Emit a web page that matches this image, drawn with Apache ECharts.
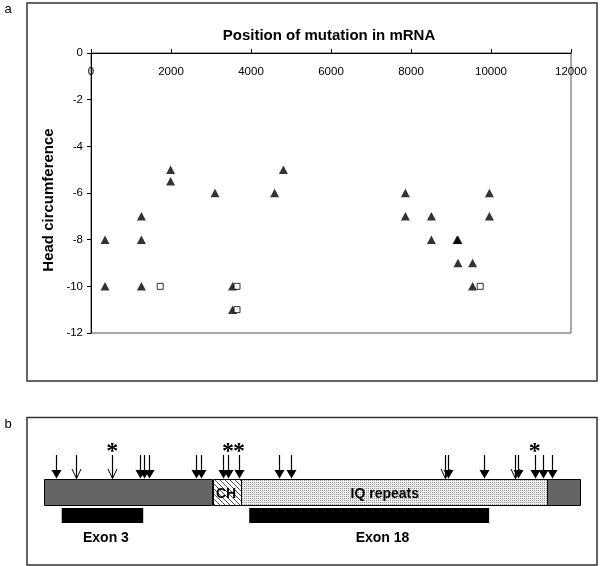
<!DOCTYPE html>
<html><head><meta charset="utf-8">
<script src="https://cdn.jsdelivr.net/npm/echarts@6/dist/echarts.min.js"></script>
<style>html,body{margin:0;padding:0;background:#fff}#c{width:605px;height:566px}</style>
</head><body><div id="c"></div>
<script>
// ---- Panel a: position of mutation in mRNA vs head circumference ----
const triX = [350, 350, 1260, 1260, 1260, 1990, 1990, 3100, 3540, 3540, 4590, 4810, 7860, 7860, 8510, 8510, 9150, 9175, 9175, 9540, 9540, 9960, 9960];
const triY = [-8, -10, -7, -8, -10, -5, -5.5, -6, -10, -11, -6, -5, -6, -7, -7, -8, -8, -8, -9, -9, -10, -6, -7];
const sqX = [1730, 3650, 3650, 9730];
const sqY = [-10, -10, -11, -10];
const titleText = 'Position of mutation in mRNA';
const yName = 'Head circumference';

// ---- Panel b: protein schematic (positions in amino acids) ----
const segStart = [0, 1092, 1274, 3263];
const segEnd = [1092, 1274, 3263, 3477];
const segKind = ['plain', 'hatch', 'dots', 'plain'];
const segLabel = ['', 'CH', 'IQ repeats', ''];
const segLabelX = [0, 1180, 2210, 0];
const exonStart = [113, 1330];
const exonEnd = [642, 2887];
const exonLabel = ['Exon 3', 'Exon 18'];
const exonLabelX = [400, 2195];
const arrowPos = [74, 206, 441, 618, 650, 679, 984, 1015, 1157, 1192, 1263, 1522, 1600, 2599, 2621, 2854, 3058, 3075, 3183, 3239, 3298];
const arrowOpen = [false, true, true, false, false, false, false, false, false, false, false, false, false, true, false, false, true, false, false, false, false];
const starPos = [441, 1192, 1263, 3183];

// layout rows for panel b (pixels)
const ROW = {star: 452, arrowTop: 455, headTop: 470, barTop: 479, barBottom: 505, exonTop: 508, exonBottom: 523, exonLabel: 538};
const FONT = '"Liberation Sans", Arial, sans-serif';

function makeHatch() {
  const c = document.createElement('canvas'); c.width = 5; c.height = 5;
  const g = c.getContext('2d');
  g.fillStyle = '#fff'; g.fillRect(0, 0, 5, 5);
  g.strokeStyle = '#555'; g.lineWidth = 1;
  g.beginPath();
  g.moveTo(-1, -1); g.lineTo(6, 6);
  g.moveTo(-1, 4); g.lineTo(1, 6);
  g.moveTo(4, -1); g.lineTo(6, 1);
  g.stroke();
  return c;
}
function makeDots() {
  const c = document.createElement('canvas'); c.width = 2; c.height = 2;
  const g = c.getContext('2d');
  g.fillStyle = '#ededed'; g.fillRect(0, 0, 2, 2);
  g.fillStyle = '#9a9a9a'; g.fillRect(0, 0, 1, 1);
  return c;
}
const hatch = makeHatch();
const dots = makeDots();

const chart = echarts.init(document.getElementById('c'), null, {renderer: 'canvas'});

const option = {
  backgroundColor: '#fff',
  animation: false,
  title: {
    text: titleText, left: 324, top: 23, textAlign: 'center',
    textStyle: {fontFamily: FONT, fontSize: 15, fontWeight: 'bold', color: '#000'}
  },
  graphic: [
    {type: 'rect', shape: {x: 27, y: 3, width: 570, height: 378}, style: {fill: null, stroke: '#333', lineWidth: 1.5}, silent: true},
    {type: 'rect', shape: {x: 27, y: 417.5, width: 570, height: 147.5}, style: {fill: null, stroke: '#333', lineWidth: 1.5}, silent: true},
    {type: 'text', x: 8, y: 9, style: {text: 'a', font: '13px ' + FONT, fill: '#000', align: 'center', verticalAlign: 'middle'}},
    {type: 'text', x: 8, y: 424, style: {text: 'b', font: '13px ' + FONT, fill: '#000', align: 'center', verticalAlign: 'middle'}},
    {type: 'text', x: 49, y: 200, rotation: Math.PI / 2, style: {text: yName, font: 'bold 15px ' + FONT, fill: '#000', align: 'center', verticalAlign: 'middle'}}
  ],
  grid: [
    {left: 91, top: 53, width: 480, height: 280, show: true, borderColor: '#555', borderWidth: 1, backgroundColor: 'transparent'},
    {left: 44.3, top: 0, width: 535.7, height: 566, show: false}
  ],
  xAxis: [
    {
      gridIndex: 0, type: 'value', position: 'top', min: 0, max: 12000, interval: 2000,
      axisLine: {show: true, lineStyle: {color: '#000', width: 1}},
      axisTick: {show: true, inside: false, length: 4, lineStyle: {color: '#000'}},
      axisLabel: {inside: true, margin: 13, color: '#000', fontFamily: FONT, fontSize: 11.5, formatter: v => String(v)},
      splitLine: {show: false}
    },
    {gridIndex: 1, type: 'value', min: 0, max: 3477, show: false}
  ],
  yAxis: [
    {
      gridIndex: 0, type: 'value', min: -12, max: 0, interval: 2,
      axisLine: {show: true, lineStyle: {color: '#000', width: 1}},
      axisTick: {show: true, inside: false, length: 4, lineStyle: {color: '#000'}},
      axisLabel: {margin: 8, color: '#000', fontFamily: FONT, fontSize: 11.5, formatter: v => String(v)},
      splitLine: {show: false}
    },
    {gridIndex: 1, type: 'value', min: 0, max: 566, inverse: true, show: false}
  ],
  series: [
    {
      type: 'scatter', xAxisIndex: 0, yAxisIndex: 0,
      data: triX.map((x, i) => [x, triY[i]]),
      symbol: 'triangle', symbolSize: [9, 8.5],
      itemStyle: {color: '#000'}
    },
    {
      type: 'scatter', xAxisIndex: 0, yAxisIndex: 0,
      data: sqX.map((x, i) => [x, sqY[i]]),
      symbol: 'rect', symbolSize: 6,
      itemStyle: {color: '#fff', borderColor: '#000', borderWidth: 1}
    },
    {
      type: 'custom', xAxisIndex: 1, yAxisIndex: 1,
      data: segStart.map((s, i) => [s, segEnd[i]]),
      renderItem: function (params, api) {
        const i = params.dataIndex;
        const p0 = api.coord([api.value(0), ROW.barTop]);
        const p1 = api.coord([api.value(1), ROW.barBottom]);
        const kind = segKind[i];
        const fill = kind === 'plain' ? '#656565' : {image: kind === 'hatch' ? hatch : dots, repeat: 'repeat'};
        const children = [{
          type: 'rect',
          shape: {x: Math.round(p0[0]) + 0.5, y: Math.round(p0[1]) + 0.5, width: Math.round(p1[0] - p0[0]), height: Math.round(p1[1] - p0[1])},
          style: {fill: fill, stroke: '#000', lineWidth: 1}
        }];
        if (segLabel[i]) {
          const pt = api.coord([segLabelX[i], (ROW.barTop + ROW.barBottom) / 2]);
          children.push({
            type: 'text', x: pt[0], y: pt[1] + 2,
            style: {text: segLabel[i], font: 'bold 14px ' + FONT, fill: '#000', align: 'center', verticalAlign: 'middle'}
          });
        }
        return {type: 'group', children: children};
      }
    },
    {
      type: 'custom', xAxisIndex: 1, yAxisIndex: 1,
      data: exonStart.map((s, i) => [s, exonEnd[i]]),
      renderItem: function (params, api) {
        const i = params.dataIndex;
        const p0 = api.coord([api.value(0), ROW.exonTop]);
        const p1 = api.coord([api.value(1), ROW.exonBottom]);
        const pt = api.coord([exonLabelX[i], ROW.exonLabel]);
        return {type: 'group', children: [
          {type: 'rect', shape: {x: p0[0], y: p0[1], width: p1[0] - p0[0], height: p1[1] - p0[1]}, style: {fill: '#000'}},
          {type: 'text', x: pt[0], y: pt[1], style: {text: exonLabel[i], font: 'bold 14px ' + FONT, fill: '#000', align: 'center', verticalAlign: 'middle'}}
        ]};
      }
    },
    {
      type: 'custom', xAxisIndex: 1, yAxisIndex: 1,
      data: arrowPos.map((p, i) => [p, arrowOpen[i] ? 1 : 0]),
      renderItem: function (params, api) {
        const x = Math.round(api.coord([api.value(0), 0])[0]) + 0.5;
        const open = api.value(1) === 1;
        const yTop = api.coord([0, ROW.arrowTop])[1];
        const yHead = api.coord([0, ROW.headTop])[1];
        const yTip = api.coord([0, ROW.barTop])[1] - 0.5;
        const children = [{
          type: 'line', shape: {x1: x, y1: yTop, x2: x, y2: open ? yTip : yHead + 1},
          style: {stroke: '#000', lineWidth: 1.2}
        }];
        if (open) {
          children.push({type: 'polyline', shape: {points: [[x - 4.5, yHead - 1], [x, yTip], [x + 4.5, yHead - 1]]}, style: {stroke: '#000', lineWidth: 1, fill: null}});
        } else {
          children.push({type: 'polygon', shape: {points: [[x - 5, yHead], [x + 5, yHead], [x, yTip]]}, style: {fill: '#000'}});
        }
        return {type: 'group', children: children};
      }
    },
    {
      type: 'custom', xAxisIndex: 1, yAxisIndex: 1,
      data: starPos.map(p => [p]),
      renderItem: function (params, api) {
        const pt = api.coord([api.value(0), ROW.star]);
        return {type: 'text', x: pt[0], y: pt[1], style: {text: '*', font: 'bold 24px "Liberation Serif", serif', fill: '#000', align: 'center', verticalAlign: 'middle'}};
      }
    }
  ]
};
chart.setOption(option);
</script>
</body></html>
